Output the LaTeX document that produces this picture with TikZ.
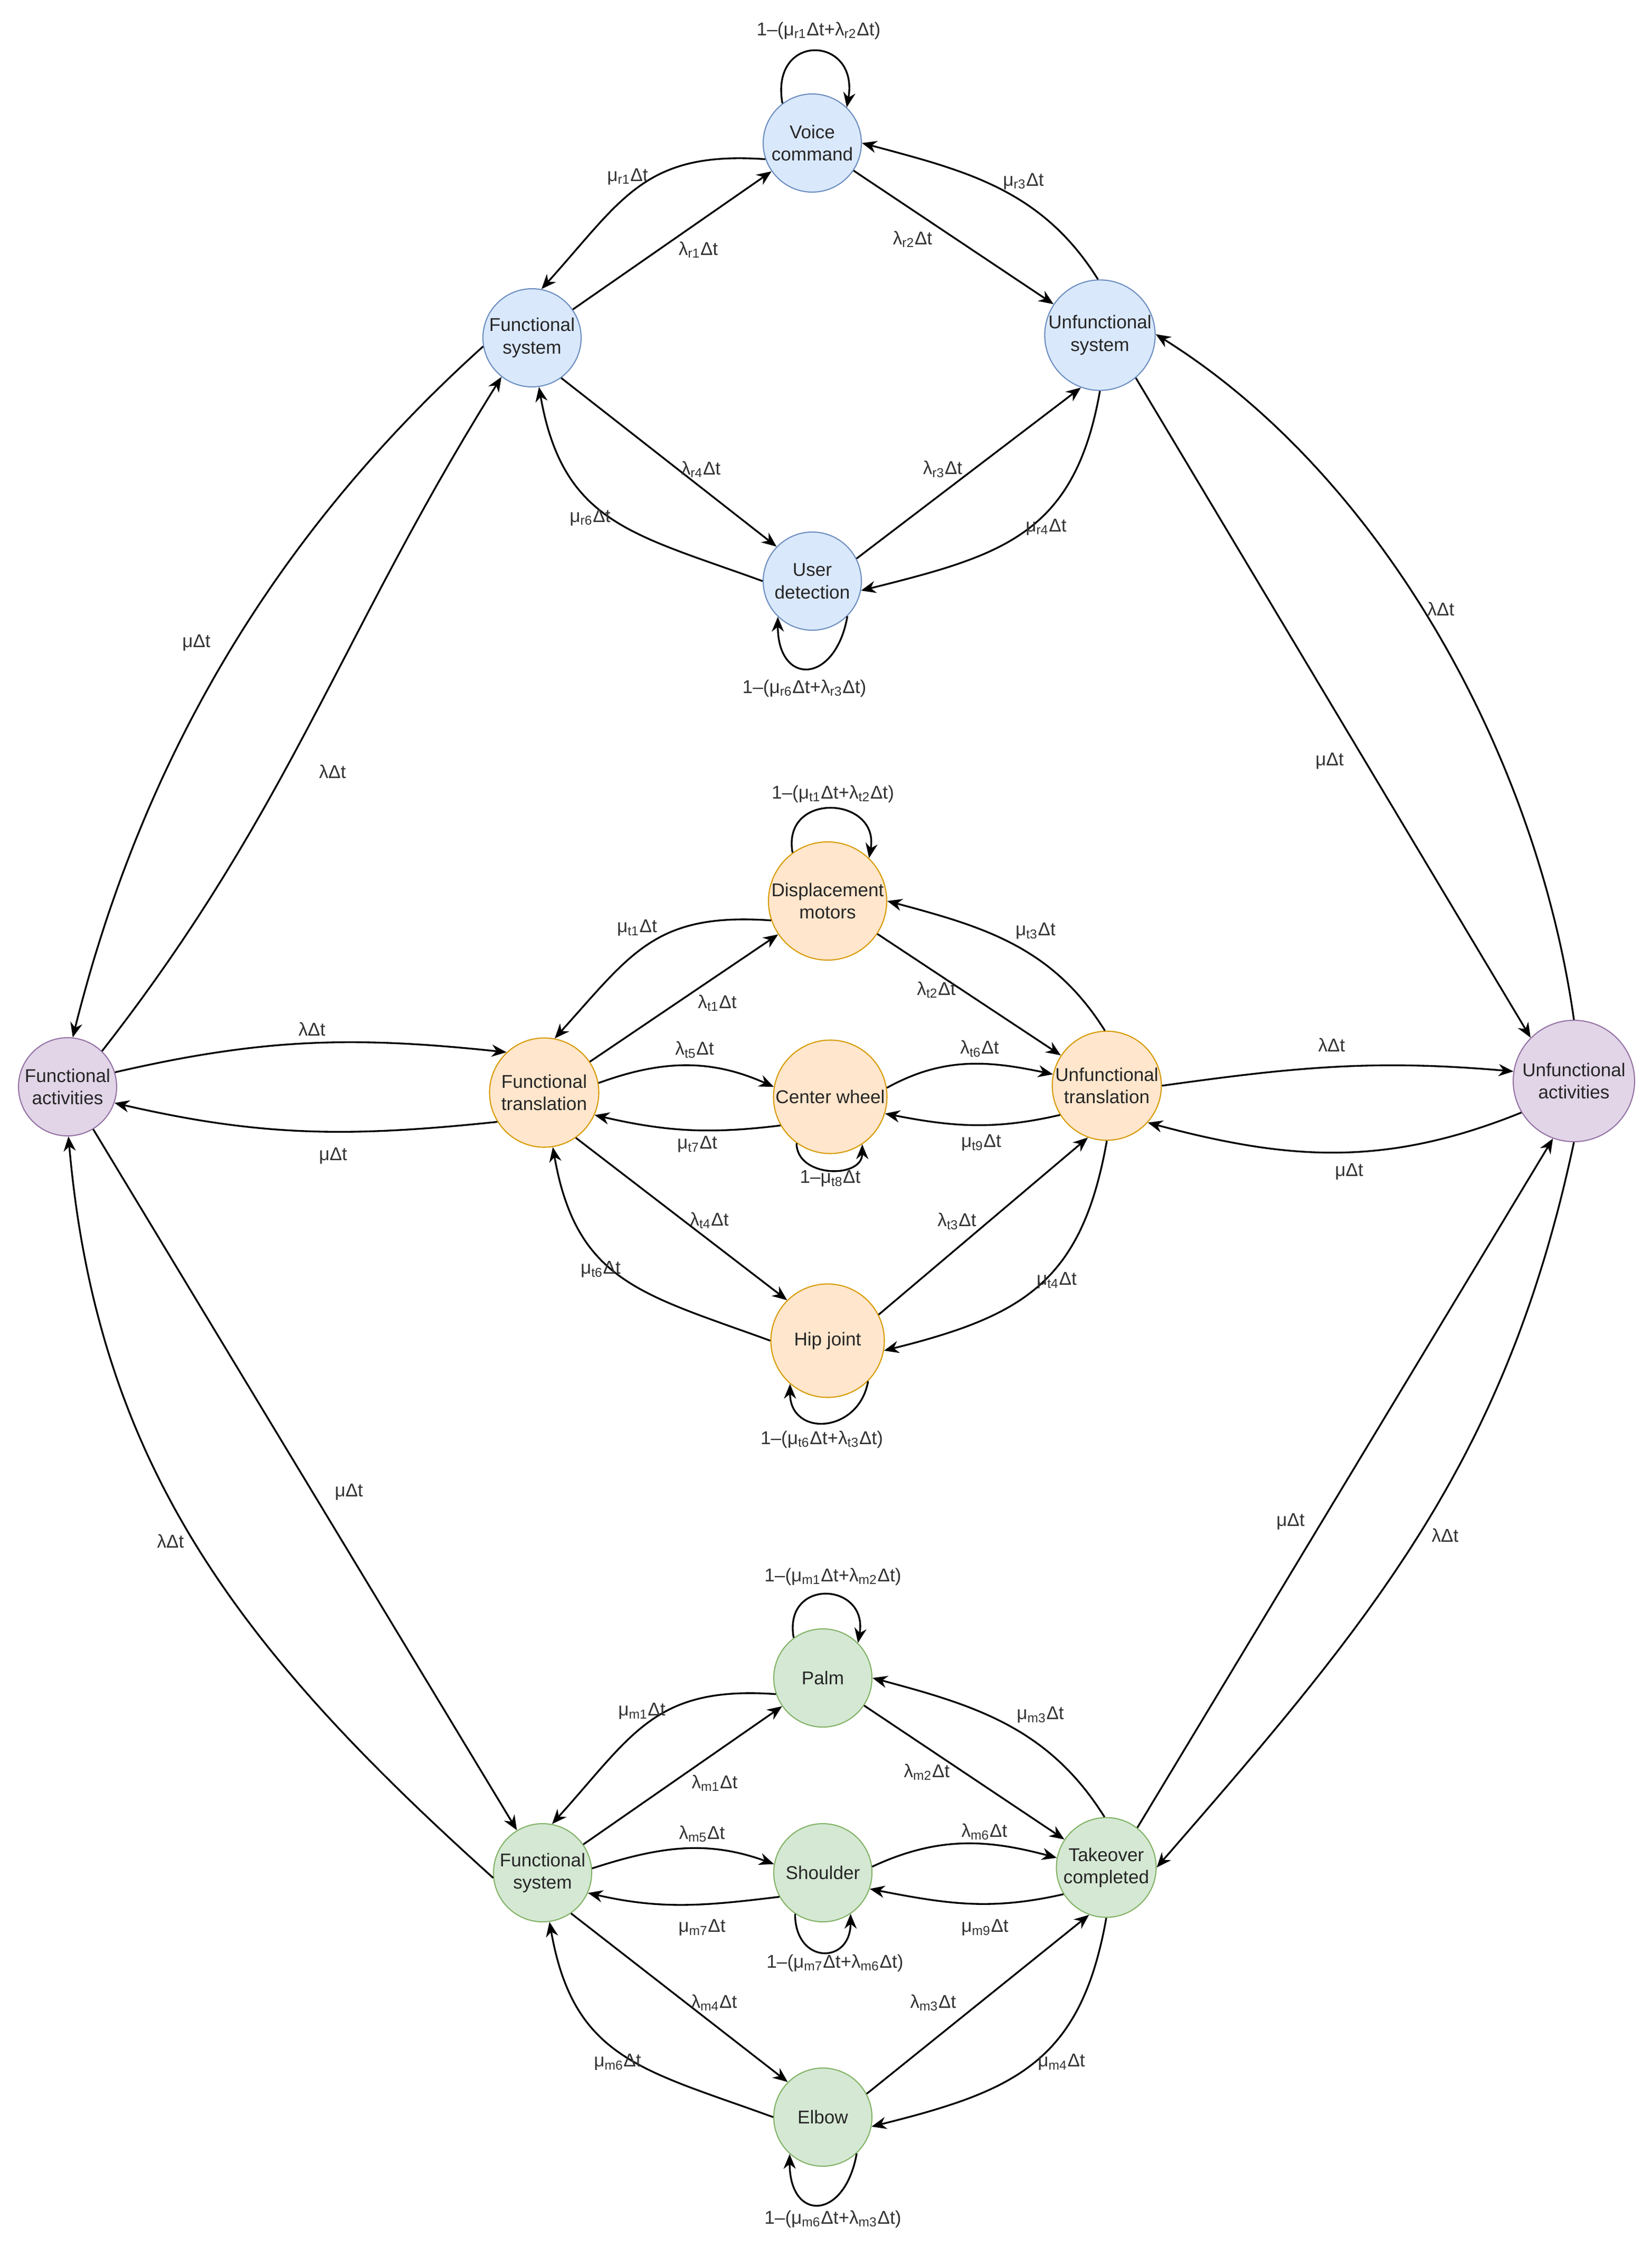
\documentclass[tikz,border=0pt]{standalone}
\usepackage{fontspec}
\setmainfont{Liberation Sans}
\usetikzlibrary{arrows.meta}

\definecolor{bluefill}{HTML}{DAE8FC}
\definecolor{bluedraw}{HTML}{6C8EBF}
\definecolor{orangefill}{HTML}{FFE6CC}
\definecolor{orangedraw}{HTML}{D79B00}
\definecolor{greenfill}{HTML}{D5E8D4}
\definecolor{greendraw}{HTML}{82B366}
\definecolor{purplefill}{HTML}{E1D5E7}
\definecolor{purpledraw}{HTML}{9673A6}

% rate label: symbol, index
\newcommand{\rlbl}[2]{#1\textsubscript{#2}Δt}

\begin{document}
\begin{tikzpicture}[
    state/.style={circle, draw, line width=0.6pt, align=center, inner sep=0pt, minimum size=1.86cm, font=\fontsize{10}{12}\selectfont, text=black!85},
    rstate/.style={state, fill=bluefill, draw=bluedraw},
    tstate/.style={state, fill=orangefill, draw=orangedraw},
    mstate/.style={state, fill=greenfill, draw=greendraw},
    astate/.style={state, fill=purplefill, draw=purpledraw},
    lbl/.style={font=\fontsize{10}{12}\selectfont, text=black!80, inner sep=1pt},
    arrow/.style={-{Stealth[length=2.8mm, width=2.3mm, inset=0.9mm]}, line width=0.95pt},
    curvy/.style={looseness=1.2}
]
    \useasboundingbox (0,0) rectangle (31.29,-42.59);

    % Activities
    \node[astate] (func_act) at (1.28,-20.59) {Functional\\activities};
    \node[astate, minimum size=2.30cm] (unfunc_act) at (29.82,-20.48) {Unfunctional\\activities};

    % Robot system
    \node[rstate] (voice_cmd) at (15.39,-2.71) {Voice\\command};
    \node[rstate] (func_sys_r) at (10.08,-6.40) {Functional\\system};
    \node[rstate, minimum size=2.04cm] (unfunc_sys_r) at (20.84,-6.35) {Unfunctional\\system};
    \node[rstate] (user_det) at (15.39,-11.01) {User\\detection};

    % Translation
    \node[tstate, minimum size=2.24cm] (disp_mot) at (15.68,-17.07) {Displacement\\motors};
    \node[tstate, minimum size=2.07cm] (func_trans) at (10.31,-20.70) {Functional\\translation};
    \node[tstate, minimum size=2.15cm] (center_wh) at (15.73,-20.78) {Center wheel};
    \node[tstate, minimum size=2.05cm] (unfunc_trans) at (20.97,-20.57) {Unfunctional\\translation};
    \node[tstate, minimum size=2.15cm] (hip_joint) at (15.68,-25.40) {Hip joint};

    % Manipulation
    \node[mstate] (palm) at (15.59,-31.79) {Palm};
    \node[mstate] (func_sys_m) at (10.28,-35.48) {Functional\\system};
    \node[mstate] (shoulder) at (15.59,-35.48) {Shoulder};
    \node[mstate, minimum size=1.89cm] (takeover) at (20.96,-35.38) {Takeover\\completed};
    \node[mstate] (elbow) at (15.59,-40.11) {Elbow};

    % Robot system edges
    \draw[arrow, curvy] (voice_cmd.199) to[out=176, in=48] (func_sys_r.79);
    \draw[arrow] (func_sys_r) -- (voice_cmd);
    \draw[arrow] (voice_cmd) -- (unfunc_sys_r);
    \draw[arrow] (unfunc_sys_r.92) to[out=122, in=-15] (voice_cmd.0);
    \draw[arrow] (func_sys_r.-54) -- (user_det.136);
    \draw[arrow, curvy] (user_det.180) to[out=160, in=-80] (func_sys_r.-82);
    \draw[arrow] (user_det.27) -- (unfunc_sys_r.250);
    \draw[arrow, curvy] (unfunc_sys_r.-90) to[out=-100, in=14] (user_det.-11);
    \draw[arrow] (voice_cmd.127) to[out=100, in=80, looseness=2.9] (voice_cmd.46);
    \draw[arrow] (user_det.-45) to[out=-100, in=-90, looseness=2.55] (user_det.-134);

    \node[lbl] (l_r0) at (15.51,-0.58) {1–(\rlbl{μ}{r1}+\rlbl{λ}{r2})};
    \node[lbl] (l_r1) at (11.89,-3.35) {\rlbl{μ}{r1}};
    \node[lbl] (l_r2) at (13.23,-4.73) {\rlbl{λ}{r1}};
    \node[lbl] (l_r3) at (17.29,-4.53) {\rlbl{λ}{r2}};
    \node[lbl] (l_r4) at (19.39,-3.44) {\rlbl{μ}{r3}};
    \node[lbl] (l_r5) at (13.28,-8.89) {\rlbl{λ}{r4}};
    \node[lbl] (l_r6) at (11.18,-9.81) {\rlbl{μ}{r6}};
    \node[lbl] (l_r7) at (17.86,-8.89) {\rlbl{λ}{r3}};
    \node[lbl] (l_r8) at (19.82,-9.99) {\rlbl{μ}{r4}};
    \node[lbl] (l_r9) at (15.24,-13.04) {1–(\rlbl{μ}{r6}+\rlbl{λ}{r3})};

    % Translation edges
    \draw[arrow, curvy] (disp_mot.199) to[out=176, in=48] (func_trans.79);
    \draw[arrow] (func_trans) -- (disp_mot);
    \draw[arrow] (disp_mot) -- (unfunc_trans);
    \draw[arrow] (unfunc_trans.92) to[out=122, in=-15] (disp_mot.0);
    \draw[arrow] (func_trans.10) to[out=20, in=156] (center_wh.170);
    \draw[arrow] (center_wh.210) to[out=187, in=-13] (func_trans.-24);
    \draw[arrow] (center_wh.9) to[out=29, in=168] (unfunc_trans.168);
    \draw[arrow] (unfunc_trans.212) to[out=193, in=-11] (center_wh.-17);
    \draw[arrow] (func_trans.-55) -- (hip_joint.135);
    \draw[arrow, curvy] (hip_joint.180) to[out=160, in=-80] (func_trans.-81);
    \draw[arrow] (hip_joint.27) -- (unfunc_trans.250);
    \draw[arrow, curvy] (unfunc_trans.-90) to[out=-100, in=14] (hip_joint.-10);
    \draw[arrow] (disp_mot.126) to[out=100, in=80, looseness=2.1] (disp_mot.46);
    \draw[arrow] (center_wh.234) to[out=270, in=270, looseness=1.35] (center_wh.304);
    \draw[arrow] (hip_joint.-45) to[out=-100, in=-90, looseness=1.75] (hip_joint.-131);

    \node[lbl] (l_t0) at (15.78,-15.04) {1–(\rlbl{μ}{t1}+\rlbl{λ}{t2})};
    \node[lbl] (l_t1) at (12.07,-17.58) {\rlbl{μ}{t1}};
    \node[lbl] (l_t2) at (13.59,-19.00) {\rlbl{λ}{t1}};
    \node[lbl] (l_t3) at (17.74,-18.75) {\rlbl{λ}{t2}};
    \node[lbl] (l_t4) at (19.62,-17.64) {\rlbl{μ}{t3}};
    \node[lbl] (l_t5) at (13.16,-19.89) {\rlbl{λ}{t5}};
    \node[lbl] (l_t6) at (18.56,-19.87) {\rlbl{λ}{t6}};
    \node[lbl] (l_t7) at (13.21,-21.68) {\rlbl{μ}{t7}};
    \node[lbl] (l_t8) at (18.59,-21.65) {\rlbl{μ}{t9}};
    \node[lbl] (l_t9) at (15.73,-22.33) {1–\rlbl{μ}{t8}};
    \node[lbl] (l_t10) at (13.44,-23.12) {\rlbl{λ}{t4}};
    \node[lbl] (l_t11) at (18.13,-23.14) {\rlbl{λ}{t3}};
    \node[lbl] (l_t12) at (11.38,-24.05) {\rlbl{μ}{t6}};
    \node[lbl] (l_t13) at (20.02,-24.26) {\rlbl{μ}{t4}};
    \node[lbl] (l_t14) at (15.57,-27.27) {1–(\rlbl{μ}{t6}+\rlbl{λ}{t3})};

    % Manipulation edges
    \draw[arrow, curvy] (palm.199) to[out=176, in=48] (func_sys_m.79);
    \draw[arrow] (func_sys_m) -- (palm);
    \draw[arrow] (palm) -- (takeover);
    \draw[arrow] (takeover.92) to[out=122, in=-15] (palm.0);
    \draw[arrow] (func_sys_m.5) to[out=18, in=160] (shoulder.170);
    \draw[arrow] (shoulder.209) to[out=187, in=-13] (func_sys_m.-24);
    \draw[arrow] (shoulder.7) to[out=25, in=165] (takeover.169);
    \draw[arrow] (takeover.212) to[out=193, in=-11] (shoulder.-19);
    \draw[arrow] (func_sys_m.-55) -- (elbow.135);
    \draw[arrow, curvy] (elbow.180) to[out=160, in=-80] (func_sys_m.-82);
    \draw[arrow] (elbow.28) -- (takeover.250);
    \draw[arrow, curvy] (takeover.-90) to[out=-100, in=14] (elbow.-11);
    \draw[arrow] (palm.126) to[out=100, in=80, looseness=2.45] (palm.45);
    \draw[arrow] (shoulder.236) to[out=270, in=270, looseness=2.35] (shoulder.304);
    \draw[arrow] (elbow.-47) to[out=-100, in=-90, looseness=2.6] (elbow.-132);

    \node[lbl] (l_m0) at (15.78,-29.87) {1–(\rlbl{μ}{m1}+\rlbl{λ}{m2})};
    \node[lbl] (l_m1) at (12.16,-32.42) {\rlbl{μ}{m1}};
    \node[lbl] (l_m2) at (13.54,-33.78) {\rlbl{λ}{m1}};
    \node[lbl] (l_m3) at (17.56,-33.57) {\rlbl{λ}{m2}};
    \node[lbl] (l_m4) at (19.71,-32.49) {\rlbl{μ}{m3}};
    \node[lbl] (l_m5) at (13.30,-34.74) {\rlbl{λ}{m5}};
    \node[lbl] (l_m6) at (18.65,-34.70) {\rlbl{λ}{m6}};
    \node[lbl] (l_m7) at (13.30,-36.52) {\rlbl{μ}{m7}};
    \node[lbl] (l_m8) at (18.66,-36.52) {\rlbl{μ}{m9}};
    \node[lbl] (l_m9) at (15.82,-37.19) {1–(\rlbl{μ}{m7}+\rlbl{λ}{m6})};
    \node[lbl] (l_m10) at (13.53,-37.94) {\rlbl{λ}{m4}};
    \node[lbl] (l_m11) at (17.68,-37.94) {\rlbl{λ}{m3}};
    \node[lbl] (l_m12) at (11.70,-39.07) {\rlbl{μ}{m6}};
    \node[lbl] (l_m13) at (20.11,-39.07) {\rlbl{μ}{m4}};
    \node[lbl] (l_m14) at (15.78,-42.04) {1–(\rlbl{μ}{m6}+\rlbl{λ}{m3})};

    % Activity edges
    \draw[arrow, looseness=0.9] (func_sys_r.190) to[out=222, in=76] (func_act.84);
    \draw[arrow] (func_act.46) to[out=52, in=238] (func_sys_r.232);
    \draw[arrow] (unfunc_sys_r.-50) -- (unfunc_act.135);
    \draw[arrow, looseness=0.85] (unfunc_act.90) to[out=98, in=-32] (unfunc_sys_r.1);
    \draw[arrow] (func_act.17) to[out=13, in=174] (func_trans.133);
    \draw[arrow] (func_trans.212) to[out=186, in=-13] (func_act.-19);
    \draw[arrow] (unfunc_trans.0) to[out=8, in=175] (unfunc_act.171);
    \draw[arrow] (unfunc_act.211) to[out=202, in=-15] (unfunc_trans.-42);
    \draw[arrow] (func_sys_m.186) to[out=138, in=-85] (func_act.-89);
    \draw[arrow] (func_act) -- (func_sys_m);
    \draw[arrow] (takeover.52) -- (unfunc_act.250);
    \draw[arrow] (unfunc_act.-90) to[out=258, in=49] (takeover.0);

    \node[lbl] (l_a1) at (3.72,-12.18) {μΔt};
    \node[lbl] (l_a2) at (6.30,-14.62) {λΔt};
    \node[lbl] (l_a3) at (25.19,-14.42) {μΔt};
    \node[lbl] (l_a4) at (27.30,-11.54) {λΔt};
    \node[lbl] (l_a5) at (5.91,-19.50) {λΔt};
    \node[lbl] (l_a6) at (6.31,-21.90) {μΔt};
    \node[lbl] (l_a7) at (25.23,-19.80) {λΔt};
    \node[lbl] (l_a8) at (25.56,-22.20) {μΔt};
    \node[lbl] (l_a9) at (3.23,-29.20) {λΔt};
    \node[lbl] (l_a10) at (6.61,-28.27) {μΔt};
    \node[lbl] (l_a11) at (24.45,-28.83) {μΔt};
    \node[lbl] (l_a12) at (27.38,-29.09) {λΔt};
\end{tikzpicture}
\end{document}
